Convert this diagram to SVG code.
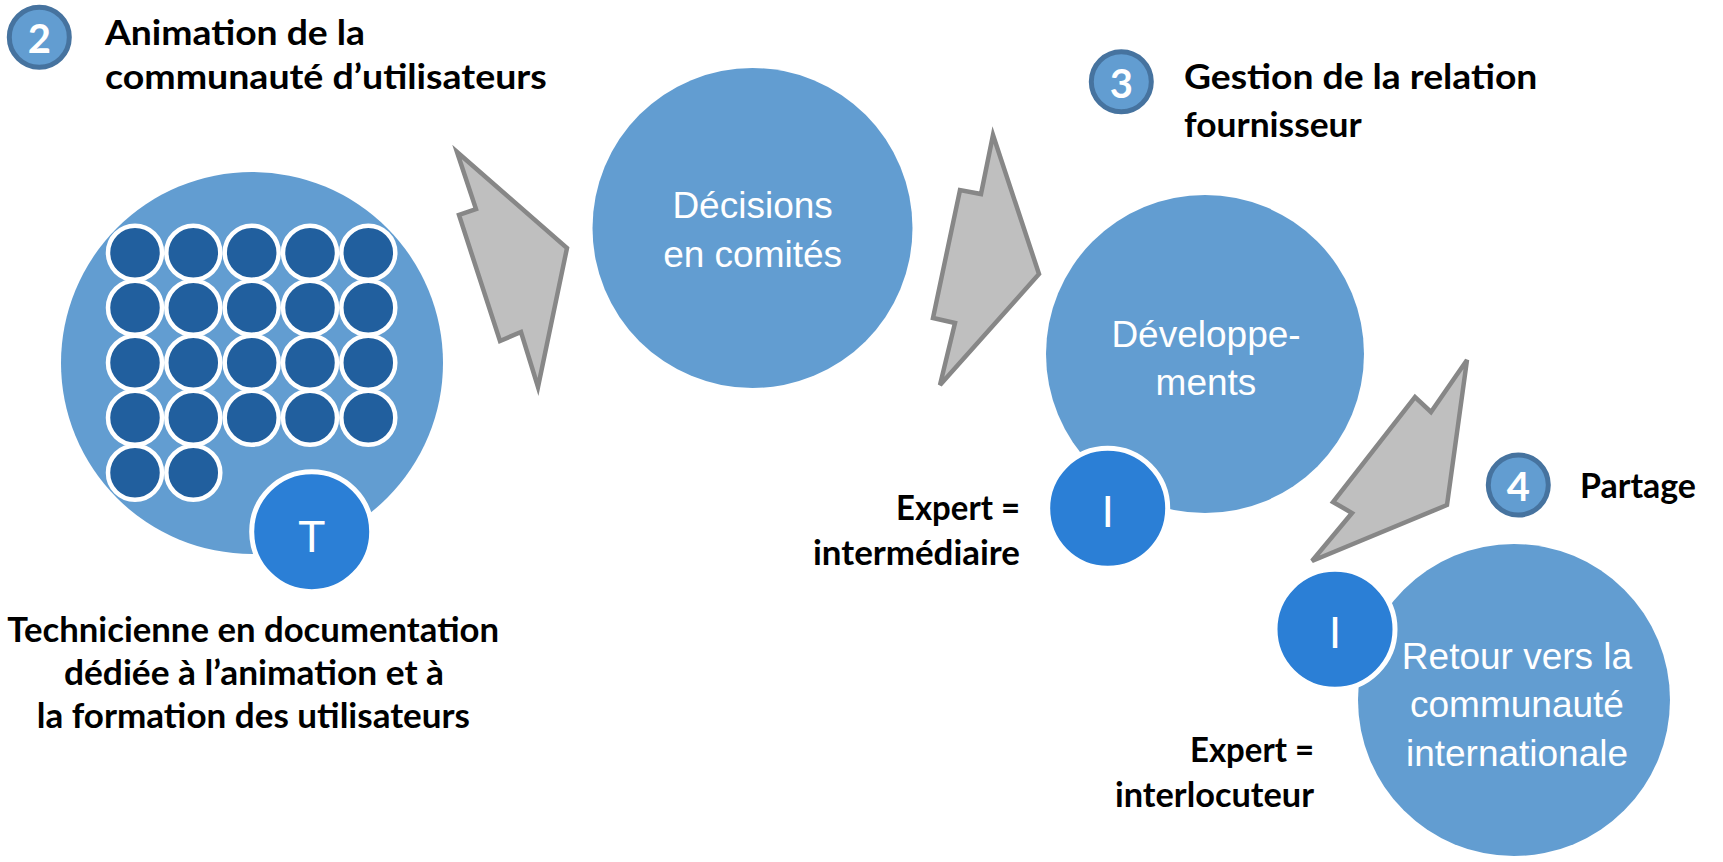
<svg xmlns="http://www.w3.org/2000/svg" width="1723" height="862" viewBox="0 0 1723 862">
<style>
.big{fill:#629DD1}
.dot{fill:#215F9E;stroke:#FFFFFF;stroke-width:4.5}
.role{fill:#2B7FD6;stroke:#FFFFFF;stroke-width:5}
.badge{fill:#629DD1;stroke:#46739F;stroke-width:5}
.arrow{fill:#BFBFBF;stroke:#878787;stroke-width:4.5;stroke-linejoin:miter}
.bold{font-family:Lato,"Open Sans","Liberation Sans",sans-serif;font-weight:700;fill:#000000}
.title{font-size:35px}
.lbl{font-size:34px}
.num{font-family:Lato,"Open Sans","Liberation Sans",sans-serif;font-weight:700;font-size:40px;fill:#FFFFFF;text-anchor:middle}
.wt{font-family:"Liberation Sans",Arial,sans-serif;font-size:37px;fill:#FFFFFF;text-anchor:middle}
.letter{font-family:"Liberation Sans",Arial,sans-serif;font-size:45px;fill:#FFFFFF;text-anchor:middle}
</style>
<rect width="1723" height="862" fill="#FFFFFF"/>

<g id="connectors">
<polygon class="arrow" points="457,152 476,209 459,215 500,341 521,332 538,387 567,248"/>
<polygon class="arrow" points="993,135 1039,274 940,385 955,323 933,318 960,190 981,194"/>
<polygon class="arrow" points="1467,360 1431,412 1415,397 1333,502 1352,513 1312,561 1447,505"/>
</g>

<g id="step2-badge">
<circle class="badge" cx="39.3" cy="37.3" r="30"/>
<text class="num" x="39.3" y="53.3">2</text>
</g>
<g id="step2-title">
<text class="bold title" x="105" y="45" textLength="260" lengthAdjust="spacingAndGlyphs">Animation de la</text>
<text class="bold title" x="105" y="88.5" textLength="441.7" lengthAdjust="spacingAndGlyphs">communauté d’utilisateurs</text>
</g>

<g id="community">
<circle class="big" cx="252" cy="363" r="191"/>
<circle class="dot" cx="135" cy="252.7" r="27"/>
<circle class="dot" cx="193.3" cy="252.7" r="27"/>
<circle class="dot" cx="251.7" cy="252.7" r="27"/>
<circle class="dot" cx="310" cy="252.7" r="27"/>
<circle class="dot" cx="368.3" cy="252.7" r="27"/>
<circle class="dot" cx="135" cy="307.7" r="27"/>
<circle class="dot" cx="193.3" cy="307.7" r="27"/>
<circle class="dot" cx="251.7" cy="307.7" r="27"/>
<circle class="dot" cx="310" cy="307.7" r="27"/>
<circle class="dot" cx="368.3" cy="307.7" r="27"/>
<circle class="dot" cx="135" cy="362.7" r="27"/>
<circle class="dot" cx="193.3" cy="362.7" r="27"/>
<circle class="dot" cx="251.7" cy="362.7" r="27"/>
<circle class="dot" cx="310" cy="362.7" r="27"/>
<circle class="dot" cx="368.3" cy="362.7" r="27"/>
<circle class="dot" cx="135" cy="417.7" r="27"/>
<circle class="dot" cx="193.3" cy="417.7" r="27"/>
<circle class="dot" cx="251.7" cy="417.7" r="27"/>
<circle class="dot" cx="310" cy="417.7" r="27"/>
<circle class="dot" cx="368.3" cy="417.7" r="27"/>
<circle class="dot" cx="135" cy="472.7" r="27"/>
<circle class="dot" cx="193.3" cy="472.7" r="27"/>
</g>

<g id="technicienne">
<circle class="role" cx="311.7" cy="531.7" r="60"/>
<text class="letter" x="311.7" y="551.7">T</text>
</g>
<g id="technicienne-label">
<text class="bold lbl" x="7.3" y="641.7" textLength="491.7" lengthAdjust="spacingAndGlyphs">Technicienne en documentation</text>
<text class="bold lbl" x="64" y="685" textLength="380" lengthAdjust="spacingAndGlyphs">dédiée à l’animation et à</text>
<text class="bold lbl" x="36.7" y="728.3" textLength="433.3" lengthAdjust="spacingAndGlyphs">la formation des utilisateurs</text>
</g>

<g id="decisions">
<circle class="big" cx="752.5" cy="228" r="160"/>
<text class="wt" x="752.6" y="218">Décisions</text>
<text class="wt" x="752.6" y="266.7">en comités</text>
</g>

<g id="step3-badge">
<circle class="badge" cx="1121.3" cy="81.7" r="30"/>
<text class="num" x="1121.3" y="97.7">3</text>
</g>
<g id="step3-title">
<text class="bold title" x="1184" y="89.3" textLength="353.3" lengthAdjust="spacingAndGlyphs">Gestion de la relation</text>
<text class="bold title" x="1184" y="136.7" textLength="177.7" lengthAdjust="spacingAndGlyphs">fournisseur</text>
</g>

<g id="developpements">
<circle class="big" cx="1205" cy="354" r="159"/>
<text class="wt" x="1206" y="346.7">Développe-</text>
<text class="wt" x="1206" y="395">ments</text>
</g>

<g id="expert-intermediaire">
<circle class="role" cx="1107.7" cy="508.3" r="60"/>
<text class="letter" x="1107.7" y="526.7">I</text>
</g>
<g id="expert-intermediaire-label">
<text class="bold lbl" x="896" y="520" textLength="124" lengthAdjust="spacingAndGlyphs">Expert =</text>
<text class="bold lbl" x="813" y="565" textLength="207" lengthAdjust="spacingAndGlyphs">intermédiaire</text>
</g>

<g id="step4-badge">
<circle class="badge" cx="1518.3" cy="485" r="30"/>
<text class="num" x="1518.3" y="501">4</text>
</g>
<g id="step4-title">
<text class="bold title" x="1580" y="498.3" textLength="116" lengthAdjust="spacingAndGlyphs">Partage</text>
</g>

<g id="retour">
<circle class="big" cx="1514" cy="700" r="156"/>
<text class="wt" x="1517" y="669.3">Retour vers la</text>
<text class="wt" x="1517" y="716.7">communauté</text>
<text class="wt" x="1517" y="766">internationale</text>
</g>

<g id="expert-interlocuteur">
<circle class="role" cx="1335" cy="629.3" r="60"/>
<text class="letter" x="1335" y="647.7">I</text>
</g>
<g id="expert-interlocuteur-label">
<text class="bold lbl" x="1190" y="761.7" textLength="124" lengthAdjust="spacingAndGlyphs">Expert =</text>
<text class="bold lbl" x="1115" y="806.7" textLength="199" lengthAdjust="spacingAndGlyphs">interlocuteur</text>
</g>
</svg>
